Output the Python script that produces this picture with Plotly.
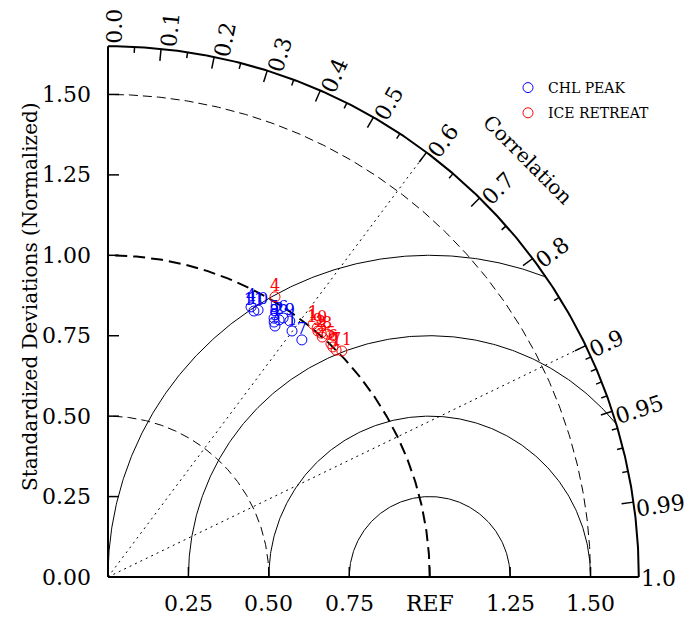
import numpy as np
import plotly.graph_objects as go

# ---------------- data ----------------
series_names = ["CHL PEAK", "ICE RETREAT"]
series_colors = ["#0000ff", "#ff0000"]
point_labels = ["1", "2", "3", "4", "5", "6", "7", "8", "9", "10", "11"]

# normalized standard deviation and correlation of each case
chl_std = [0.955, 0.960, 0.937, 0.950, 0.956, 0.972, 0.952, 0.946, 0.976, 0.952, 0.943]
chl_corr = [0.599, 0.554, 0.554, 0.468, 0.540, 0.560, 0.633, 0.546, 0.579, 0.490, 0.481]
ice_std = [1.012, 1.007, 1.000, 1.014, 1.003, 1.000, 1.000, 1.017, 1.005, 1.011, 1.011]
ice_corr = [0.630, 0.658, 0.666, 0.512, 0.691, 0.699, 0.709, 0.670, 0.649, 0.643, 0.719]

std_ticks = [0.0, 0.25, 0.5, 0.75, 1.0, 1.25, 1.5]
std_ticklabels = ["0.00", "0.25", "0.50", "0.75", "1.00", "1.25", "1.50"]
x_ticks = [0.25, 0.5, 0.75, 1.0, 1.25, 1.5]
x_ticklabels = ["0.25", "0.50", "0.75", "REF", "1.25", "1.50"]
corr_major = [0.0, 0.1, 0.2, 0.3, 0.4, 0.5, 0.6, 0.7, 0.8, 0.9, 0.95, 0.99, 1.0]
corr_major_labels = ["0.0", "0.1", "0.2", "0.3", "0.4", "0.5", "0.6", "0.7",
                     "0.8", "0.9", "0.95", "0.99", "1.0"]
corr_minor = [0.05, 0.15, 0.25, 0.35, 0.45, 0.55, 0.65, 0.75, 0.85,
              0.91, 0.92, 0.93, 0.94, 0.96, 0.97, 0.98]
std_arcs = [0.5, 1.5]
ref_arc = [1.0]
rms_circles = [0.25, 0.5, 0.75, 1.0]
corr_lines = [0.6, 0.9]
R_MAX = 1.65

# ---------------- layout geometry ----------------
W, H = 687, 616            # page body has an 8px margin
OX, OY = 100, 569          # pixel position of the origin inside the figure
S = 321.7                  # pixels per unit
px = 1.0 / S
FONT = "DejaVu Serif"
TICK_FS = 22
TITLE_FS = 20

xr = [-OX / S, (W - OX) / S]
yr = [(OY - H) / S, OY / S]

fig = go.Figure()


def add_line(x, y, width=1, dash="solid"):
    fig.add_trace(go.Scatter(x=x, y=y, mode="lines", hoverinfo="skip", showlegend=False,
                             line=dict(color="black", width=width, dash=dash)))


th = np.linspace(0, np.pi / 2, 300)
# std dashed arcs
for s in std_arcs:
    add_line(s * np.cos(th), s * np.sin(th), 1, "9px,5px")
for s in ref_arc:
    add_line(s * np.cos(th), s * np.sin(th), 2, "12px,6px")

# RMS circles centred on REF
for rr in rms_circles:
    cmin = (R_MAX ** 2 - 1 - rr ** 2) / (2 * rr)
    phimin = np.arccos(min(1.0, max(-1.0, cmin))) if cmin < 1 else 0.0
    phi = np.linspace(phimin, np.pi, 300)
    xx = 1 + rr * np.cos(phi)
    yy = rr * np.sin(phi)
    keep = xx >= -1e-9
    add_line(xx[keep], yy[keep], 1)

# correlation rays
for c in corr_lines:
    a = np.arccos(c)
    add_line([0, R_MAX * np.cos(a)], [0, R_MAX * np.sin(a)], 1, "2px,4px")

# outer arc and axes
add_line(R_MAX * np.cos(th), R_MAX * np.sin(th), 2)
add_line([0, 0], [0, R_MAX], 2)
add_line([0, R_MAX], [0, 0], 2)

# correlation ticks (inward)
tx, ty = [], []
for c in corr_major[1:-1]:
    a = np.arccos(c)
    r0 = R_MAX - 12 * px
    tx += [r0 * np.cos(a), R_MAX * np.cos(a), None]
    ty += [r0 * np.sin(a), R_MAX * np.sin(a), None]
for c in corr_minor:
    a = np.arccos(c)
    r0 = R_MAX - 6 * px
    tx += [r0 * np.cos(a), R_MAX * np.cos(a), None]
    ty += [r0 * np.sin(a), R_MAX * np.sin(a), None]
# std axis ticks (left axis, pointing right; bottom axis, pointing up)
for v in std_ticks[1:]:
    tx += [0, 11 * px, None]
    ty += [v, v, None]
for v in x_ticks:
    tx += [v, v, None]
    ty += [0, 10 * px, None]
fig.add_trace(go.Scatter(x=tx, y=ty, mode="lines", hoverinfo="skip", showlegend=False,
                         line=dict(color="black", width=1.5)))

# data points
for name, col, sd, cr in [(series_names[0], series_colors[0], chl_std, chl_corr),
                          (series_names[1], series_colors[1], ice_std, ice_corr)]:
    sd = np.array(sd)
    cr = np.array(cr)
    xs = sd * cr
    ys = sd * np.sqrt(1 - cr ** 2)
    fig.add_trace(go.Scatter(x=xs, y=ys, mode="markers", name=name, legendgroup=name,
                             marker=dict(symbol="circle-open", size=10, color=col,
                                         line=dict(width=1, color=col))))
    fig.add_trace(go.Scatter(x=xs, y=ys + 10 * px, mode="text", text=point_labels,
                             showlegend=False, hoverinfo="skip",
                             textfont=dict(family=FONT, size=16, color=col)))

ann = []
# left axis labels
for v, t in zip(std_ticks, std_ticklabels):
    ann.append(dict(x=-15 * px, y=v, text=t, xanchor="right", yanchor="middle",
                    showarrow=False, font=dict(family=FONT, size=TICK_FS, color="black")))
# bottom labels
for v, t in zip(x_ticks, x_ticklabels):
    ann.append(dict(x=v, y=-26 * px, text=t, xanchor="center", yanchor="middle",
                    showarrow=False, font=dict(family=FONT, size=TICK_FS, color="black")))
# correlation labels (radial text, shifted slightly clockwise like the original)
for c, t in zip(corr_major, corr_major_labels):
    a = np.arccos(c)
    L = sum(0.32 * TICK_FS if ch == "." else 0.636 * TICK_FS for ch in t)
    rc = R_MAX + (2 + L / 2) * px
    shift = (1.5 if c >= 1.0 else 7.0) * px
    cx = rc * np.cos(a) + shift * np.sin(a)
    cy = rc * np.sin(a) - shift * np.cos(a)
    ann.append(dict(x=cx, y=cy, text=t, xanchor="center",
                    yanchor="middle", textangle=-np.degrees(a), showarrow=False,
                    font=dict(family=FONT, size=TICK_FS, color="black")))
# axis titles
ann.append(dict(x=1.835 * np.cos(np.pi / 4) + 3 * px, y=1.835 * np.sin(np.pi / 4),
                text="Correlation", textangle=45, showarrow=False,
                xanchor="center", yanchor="middle",
                font=dict(family=FONT, size=TITLE_FS, color="black")))
ann.append(dict(x=-78 * px, y=280 * px, text="Standardized Deviations (Normalized)",
                textangle=-90, showarrow=False, xanchor="center", yanchor="middle",
                font=dict(family=FONT, size=TITLE_FS, color="black")))

fig.update_layout(
    width=W, height=H,
    margin=dict(l=0, r=0, t=0, b=0),
    paper_bgcolor="white", plot_bgcolor="white",
    xaxis=dict(range=xr, visible=False, fixedrange=True),
    yaxis=dict(range=yr, visible=False, fixedrange=True),
    annotations=ann,
    showlegend=True,
    legend=dict(x=500 / W, y=1 - 64 / H, xanchor="left", yanchor="top",
                bgcolor="rgba(0,0,0,0)", traceorder="grouped", tracegroupgap=4,
                itemwidth=30, font=dict(family=FONT, size=14, color="black")),
)

fig.write_html("out.html")
